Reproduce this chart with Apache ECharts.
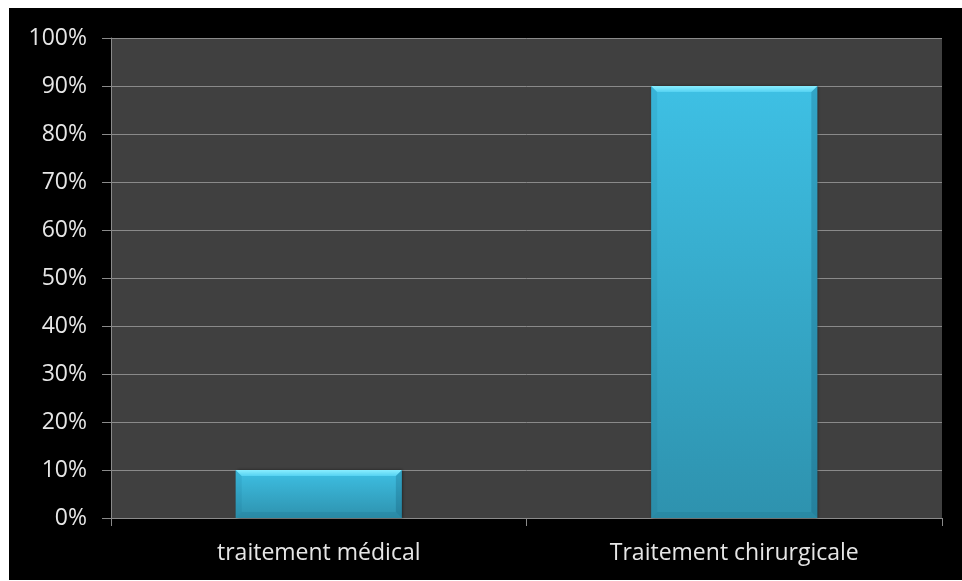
<!DOCTYPE html>
<html>
<head>
<meta charset="utf-8">
<script src="https://cdn.jsdelivr.net/npm/echarts@6/dist/echarts.min.js"></script>
<style>
  html, body { margin: 0; padding: 0; background: #ffffff; width: 962px; height: 581px; overflow: hidden; }
  #chart { position: absolute; left: 9px; top: 8px; width: 953px; height: 572px; background: #000000; }
</style>
</head>
<body>
<div id="chart"></div>
<script>
const categories = ['traitement médical', 'Traitement chirurgicale'];
const values = [10, 90];
const yMin = 0;
const yMax = 100;
const yInterval = 10;

const chart = echarts.init(document.getElementById('chart'), null, { renderer: 'canvas' });

const labelFont = { color: '#e6e6e6', fontFamily: 'Open Sans', fontSize: 23 };

function renderBar(params, api) {
  const idx = api.value(0);
  const v = api.value(1);
  const top = api.coord([idx, v]);
  const base = api.coord([idx, 0]);
  const bandW = api.size([1, 0])[0];
  const w = bandW * 0.4;
  const x = top[0] - w / 2;
  const y = top[1];
  const h = base[1] - top[1];
  const b = Math.min(6, h / 3);
  return {
    type: 'group',
    children: [
      {
        type: 'rect',
        shape: { x: x, y: y, width: w, height: h },
        style: {
          fill: new echarts.graphic.LinearGradient(0, 0, 0, 1, [
            { offset: 0, color: '#3ec0e4' },
            { offset: 1, color: '#2e92ae' }
          ]),
          shadowColor: 'rgba(0,0,0,0.5)', shadowBlur: 3, shadowOffsetX: 1, shadowOffsetY: 0
        }
      },
      {
        type: 'polygon',
        shape: { points: [[x, y], [x + w, y], [x + w - b, y + b], [x + b, y + b]] },
        style: {
          fill: new echarts.graphic.LinearGradient(0, 0, 0, 1, [
            { offset: 0, color: '#8aeeff' },
            { offset: 1, color: '#55d2f2' }
          ])
        }
      },
      {
        type: 'polygon',
        shape: { points: [[x, y], [x + b, y + b], [x + b, y + h - b], [x, y + h]] },
        style: { fill: 'rgba(20,100,130,0.12)' }
      },
      {
        type: 'polygon',
        shape: { points: [[x + w, y], [x + w - b, y + b], [x + w - b, y + h - b], [x + w, y + h]] },
        style: { fill: 'rgba(10,70,95,0.22)' }
      },
      {
        type: 'polygon',
        shape: { points: [[x, y + h], [x + b, y + h - b], [x + w - b, y + h - b], [x + w, y + h]] },
        style: { fill: 'rgba(10,70,95,0.12)' }
      }
    ]
  };
}

chart.setOption({
  backgroundColor: '#000000',
  animation: false,
  grid: {
    left: 102, top: 30, right: 20, bottom: 62,
    show: true, backgroundColor: '#404040', borderWidth: 0
  },
  xAxis: {
    type: 'category',
    data: categories,
    axisLine: { show: true, lineStyle: { color: '#8a8a8a', width: 1 } },
    axisTick: { show: true, alignWithLabel: false, length: 8, lineStyle: { color: '#8a8a8a' } },
    axisLabel: Object.assign({ margin: 24 }, labelFont),
    splitLine: { show: false }
  },
  yAxis: {
    type: 'value',
    min: yMin, max: yMax, interval: yInterval,
    axisLine: { show: true, lineStyle: { color: '#8a8a8a', width: 1 } },
    axisTick: { show: true, length: 9, lineStyle: { color: '#8a8a8a' } },
    axisLabel: Object.assign({ margin: 24, formatter: '{value}%' }, labelFont),
    splitLine: { show: true, lineStyle: { color: '#8a8a8a', width: 1 } }
  },
  series: [{
    type: 'custom',
    renderItem: renderBar,
    data: values.map((v, i) => [i, v]),
    encode: { x: 0, y: 1 },
    clip: false
  }]
});
</script>
</body>
</html>
